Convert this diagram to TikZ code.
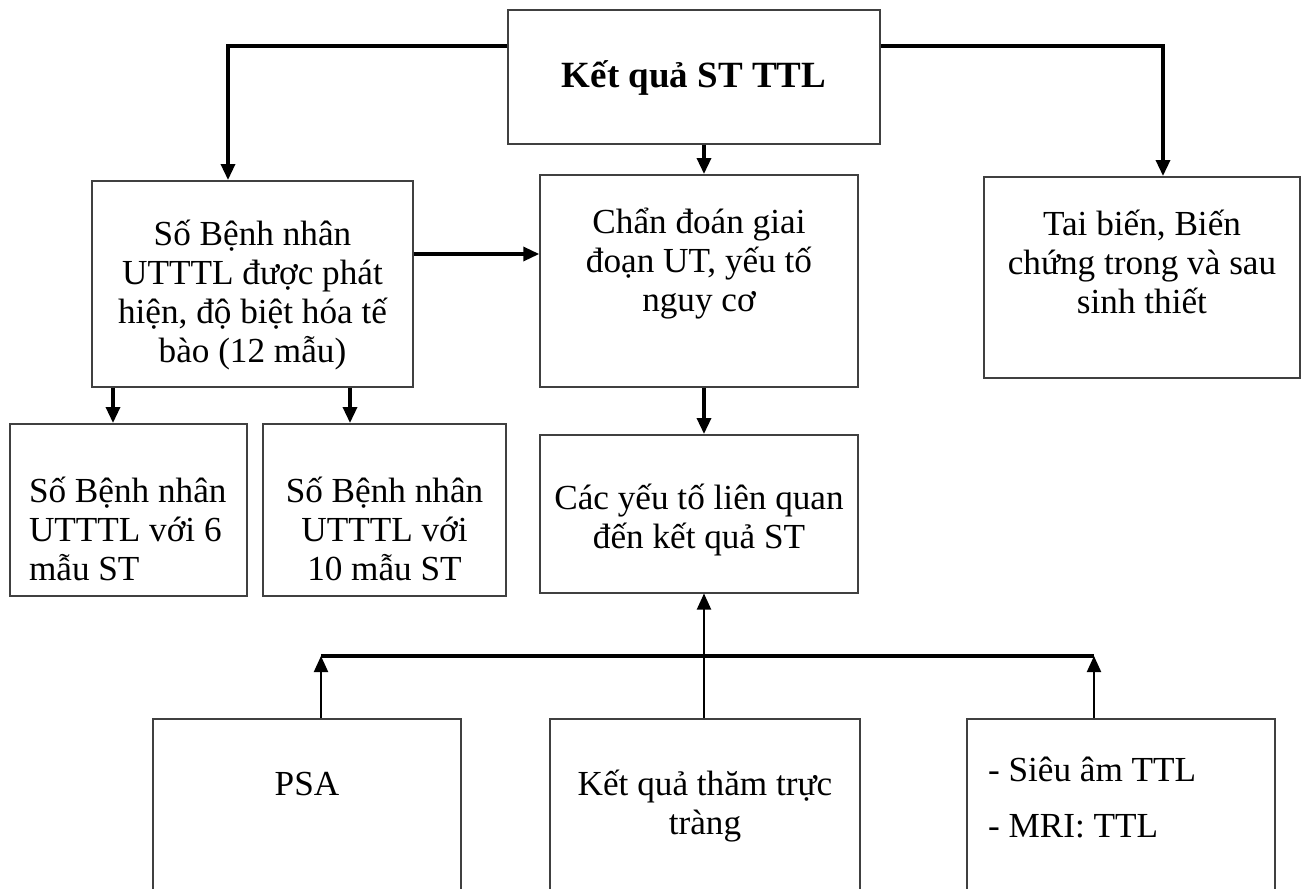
\documentclass[tikz,border=0pt]{standalone}
\usepackage{fontspec}
\setmainfont{Liberation Serif}
\usetikzlibrary{arrows.meta}
\definecolor{BoxLine}{HTML}{404040}
\tikzset{
    % Text of all nodes
    every node/.style={font=\fontsize{17.6pt}{19.5pt}\selectfont},
    % Box style (placed by its top edge, sized by text height/depth)
    box/.style={
        rectangle,
        draw=BoxLine,
        line width=0.75pt,
        anchor=north,
        align=center,
        inner xsep=0pt,
        inner ysep=0pt
    },
    % Box with left aligned text
    listbox/.style={
        box,
        align=left
    },
    % Arrow style
    arrow/.style={
        -{Triangle[width=7pt,length=8pt]},
        line width=1.7pt,
        color=black
    },
    % Thin arrow
    thinarrow/.style={
        arrow,
        line width=1pt
    },
    % Plain joining line
    link/.style={
        line width=1.9pt,
        color=black
    }
}

\begin{document}
\begin{tikzpicture}[x=0.5pt, y=-0.5pt]
        \useasboundingbox (0,0) rectangle (1314,889);
        \clip (0,0) rectangle (1314,889);

        % Top row
        \node (title) [box, minimum width=186pt, text height=39pt, text depth=28pt,
            font=\fontsize{18.5pt}{20pt}\selectfont\bfseries] at (694,9) {Kết quả ST TTL};
        \node (patients) [box, minimum width=160.5pt, text height=91pt, text depth=12pt] at (252.5,180)
            {Số Bệnh nhân\\UTTTL được phát\\hiện, độ biệt hóa tế\\bào (12 mẫu)};
        \node (stage) [box, minimum width=159pt, text height=68.5pt, text depth=37.5pt] at (699,174)
            {Chẩn đoán giai\\đoạn UT, yếu tố\\nguy cơ};
        \node (events) [box, minimum width=158pt, text height=68.5pt, text depth=32pt] at (1142,176)
            {Tai biến, Biến\\chứng trong và sau\\sinh thiết};

        % Second row
        \node (six) [listbox, minimum width=118.5pt, text height=78.5pt, text depth=7.5pt] at (128.5,423)
            {\makebox[99.5pt][l]{Số Bệnh nhân}\\UTTTL với 6\\mẫu ST};
        \node (ten) [box, minimum width=121.5pt, text height=78.5pt, text depth=7.5pt] at (384.5,423)
            {Số Bệnh nhân\\UTTTL với\\10 mẫu ST};
        \node (factors) [box, minimum width=159pt, text height=57pt, text depth=22pt] at (699,434)
            {Các yếu tố liên quan\\đến kết quả ST};

        % Bottom row
        \node (psa) [box, minimum width=154pt, text height=38.5pt, text depth=62.5pt] at (307,718) {PSA};
        \node (dre) [box, minimum width=155pt, text height=58pt, text depth=43pt] at (705,718)
            {Kết quả thăm trực\\tràng};
        \node (imaging) [listbox, minimum width=154pt, text height=59.5pt, text depth=41.5pt] at (1121,718)
            {\makebox[133pt][l]{- Siêu âm TTL}\\[8.5pt]- MRI: TTL};

        \draw [arrow] ([yshift=-18.5pt]title.north west) -| ([xshift=-12.25pt]patients.north);
        \draw [arrow] ([yshift=-18.5pt]title.north east) -| ([xshift=10.5pt]events.north);
        \draw [arrow] ([xshift=5pt]title.south) -- ([xshift=2.5pt]stage.north);
        \draw [arrow] ([yshift=-37pt]patients.north east) -- ([yshift=-40pt]stage.north west);
        \draw [arrow] ([xshift=2.5pt]stage.south) -- ([xshift=2.5pt]factors.north);
        \draw [arrow] ([xshift=-69.75pt]patients.south) -- ([xshift=-7.75pt]six.north);
        \draw [arrow] ([xshift=48.75pt]patients.south) -- ([xshift=-17.25pt]ten.north);

        % Inputs joined below the factors
        \coordinate (busL) at (321,656);
        \coordinate (busR) at (1094,656);
        \draw [link] (busL) -- (busR);
        \draw [thinarrow] ([xshift=7pt]psa.north) -- (busL);
        \draw [thinarrow] ([xshift=-13.5pt]imaging.north) -- (busR);
        \draw [thinarrow] ([xshift=-0.5pt]dre.north) -- ([xshift=2.5pt]factors.south);
    \end{tikzpicture}
\end{document}
